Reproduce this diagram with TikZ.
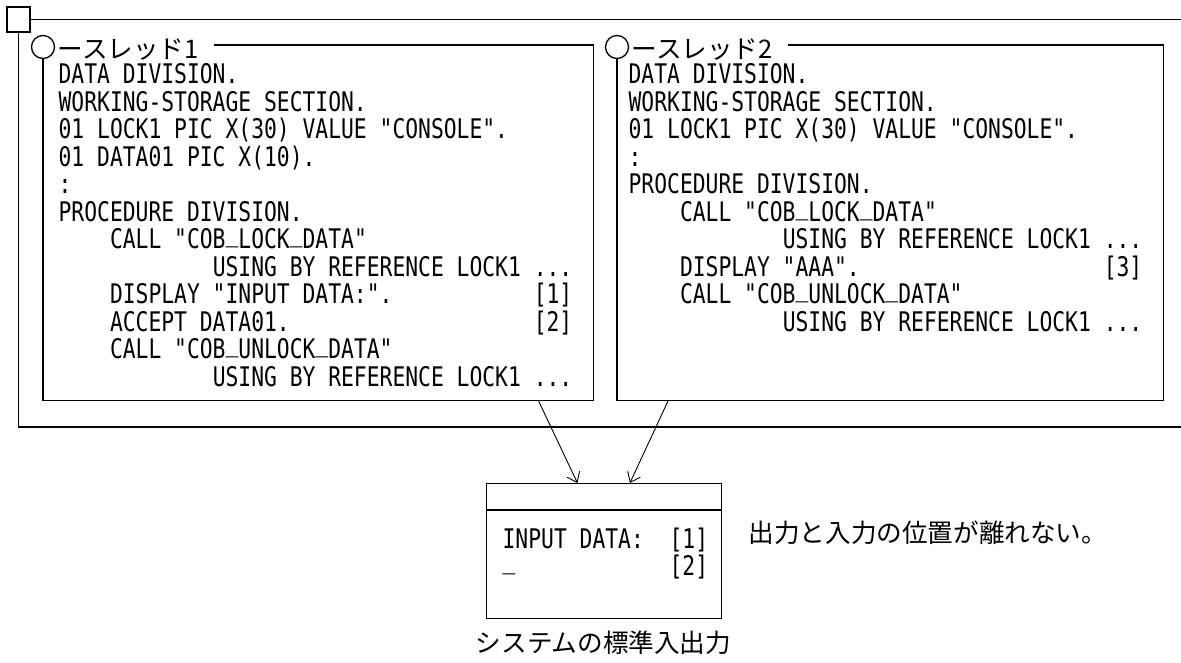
\documentclass[tikz,border=0pt]{standalone}
\usepackage{fontspec}
\setmonofont{DejaVu Sans Mono}[FakeStretch=0.79]
\newfontfamily\jpfont{Noto Sans CJK JP}
\usetikzlibrary{arrows.meta,calc,positioning}
\newcommand\gap[1]{\hspace*{#1\fontcharwd\font`\M}}
\newcommand\us{\raisebox{7pt}{\_}}

\begin{document}
\begin{tikzpicture}[x=1pt,y=-1pt,line width=1.3pt,
code/.style={font=\ttfamily\fontsize{27}{27.5}\selectfont,align=left,anchor=north west,inner sep=0pt},
jp/.style={font=\jpfont\fontsize{25.6}{28}\selectfont,inner sep=0pt},
thread/.style={minimum width=#1,minimum height=354pt,anchor=north west,inner sep=0pt},
ring/.style={circle,draw,fill=white,minimum size=23pt,inner sep=0pt},
arr/.style={-{Straight Barb[length=9pt,width=14pt]},line width=0.9pt}]
\useasboundingbox (0,0) rectangle (1181,662);

% process frame
\node[draw,minimum width=23pt,minimum height=25pt,inner sep=0pt] (P) at (18.5,19.5) {};
\draw (P.east) -- (1181,19.5);
\draw (P.south) -- (18.5,427) -- (1181,427);

% thread 1
\node[thread=549pt] (T1) at (43,45) {};
\node[ring] (R1) at ([yshift=-2pt]T1.north west) {};
\node[jp,anchor=west] (L1) at ([xshift=2pt,yshift=-3pt]R1.east) {ースレッド1};
\path (L1.east) ++(15,0) coordinate (E1);
\draw (E1 |- T1.north) -- (T1.north east) -- (T1.south east) -- (T1.south west) -- (R1.south);
\node[code] (K1) at (58,63) {DATA DIVISION.\\
WORKING-STORAGE SECTION.\\
01 LOCK1 PIC X(30) VALUE "CONSOLE".\\
01 DATA01 PIC X(10).\\
:\\
PROCEDURE DIVISION.\\
\gap{4}CALL "COB\us LOCK\us DATA"\\
\gap{12}USING BY REFERENCE LOCK1 ...\\
\gap{4}DISPLAY "INPUT DATA:".\gap{11}[1]\\
\gap{4}ACCEPT DATA01.\gap{19}[2]\\
\gap{4}CALL "COB\us UNLOCK\us DATA"\\
\gap{12}USING BY REFERENCE LOCK1 ...};

% thread 2
\node[thread=545pt] (T2) at (617,45) {};
\node[ring] (R2) at ([yshift=-2pt]T2.north west) {};
\node[jp,anchor=west] (L2) at ([xshift=2pt,yshift=-3pt]R2.east) {ースレッド2};
\path (L2.east) ++(15,0) coordinate (E2);
\draw (E2 |- T2.north) -- (T2.north east) -- (T2.south east) -- (T2.south west) -- (R2.south);
\node[code] (K2) at (628,63) {DATA DIVISION.\\
WORKING-STORAGE SECTION.\\
01 LOCK1 PIC X(30) VALUE "CONSOLE".\\
:\\
PROCEDURE DIVISION.\\
\gap{4}CALL "COB\us LOCK\us DATA"\\
\gap{12}USING BY REFERENCE LOCK1 ...\\
\gap{4}DISPLAY "AAA".\gap{19}[3]\\
\gap{4}CALL "COB\us UNLOCK\us DATA"\\
\gap{12}USING BY REFERENCE LOCK1 ...};

% standard input/output
\node[draw,minimum width=235pt,minimum height=135pt,anchor=north west,inner sep=0pt] (S) at (486,483) {};
\draw ([yshift=-27pt]S.north west) -- ([yshift=-27pt]S.north east);
\node[code] (O) at (502,527) {INPUT DATA:\gap{2}[1]\\
\us\gap{12}[2]};
\node[jp,anchor=west] (N) at (748,533) {出力と入力の位置が離れない。};
\node[jp] (D) at (603.5,643) {システムの標準入出力};

\draw[arr] ($(T1.south west)!.9!(T1.south east)$) -- ($(S.north west)!.387!(S.north east)$);
\draw[arr] ($(T2.south west)!.094!(T2.south east)$) -- ($(S.north west)!.609!(S.north east)$);
\end{tikzpicture}
\end{document}
